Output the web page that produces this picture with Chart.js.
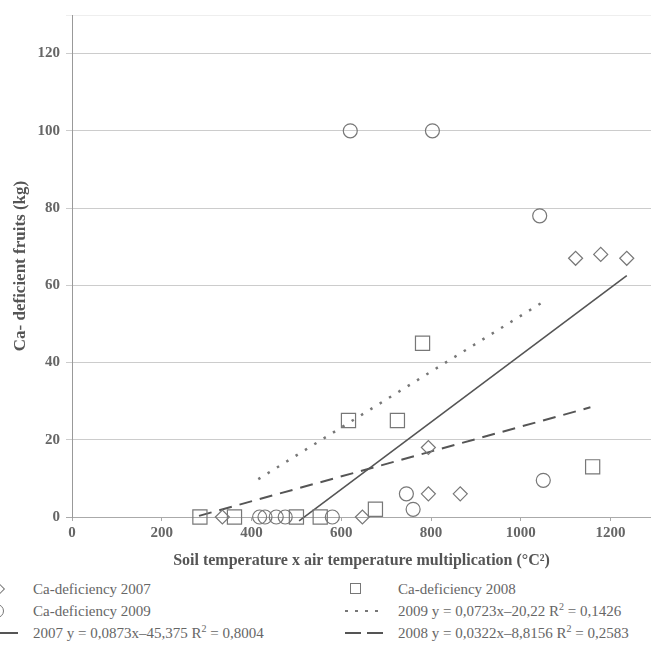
<!DOCTYPE html>
<html>
<head>
<meta charset="utf-8">
<script src="https://cdn.jsdelivr.net/npm/chart.js@4"></script>
<style>
  body { margin: 0; width: 651px; height: 653px; overflow: hidden; background: #fff; position: relative; }
  #chart { position: absolute; left: 0; top: 0; }
  .leg { position: absolute; font: 15px "Liberation Serif", serif; color: #666; white-space: nowrap; line-height: 16px; }
  .leg sup { font-size: 10px; line-height: 0; }
  .mk { position: absolute; box-sizing: border-box; }
</style>
</head>
<body>
<canvas id="chart" width="651" height="575"></canvas>

<!-- legend -->
<div class="mk" style="left:-7px;top:584px;width:10px;height:10px;border:1.2px solid #777;transform:rotate(45deg);"></div>
<div class="leg" style="left:33px;top:581px;">Ca-deficiency 2007</div>
<div class="mk" style="left:-10px;top:604px;width:14px;height:14px;border:1.2px solid #777;border-radius:50%;"></div>
<div class="leg" style="left:33px;top:603px;">Ca-deficiency 2009</div>
<div class="mk" style="left:0px;top:632px;width:18px;height:0;border-top:2px solid #555;"></div>
<div class="leg" style="left:33px;top:625px;">2007 y = 0,0873x–45,375 R<sup>2</sup> = 0,8004</div>

<div class="mk" style="left:350px;top:583px;width:11px;height:11px;border:1.2px solid #777;"></div>
<div class="leg" style="left:398px;top:581px;">Ca-deficiency 2008</div>
<div class="mk" style="left:345px;top:610px;width:40px;height:2px;background-image:linear-gradient(to right,#777 3px,transparent 3px);background-size:10px 2px;"></div>
<div class="leg" style="left:398px;top:603px;">2009 y = 0,0723x–20,22 R<sup>2</sup> = 0,1426</div>
<div class="mk" style="left:345px;top:632px;width:16px;height:0;border-top:2px solid #555;"></div>
<div class="mk" style="left:367px;top:632px;width:16px;height:0;border-top:2px solid #555;"></div>
<div class="leg" style="left:398px;top:625px;">2008 y = 0,0322x–8,8156 R<sup>2</sup> = 0,2583</div>

<script>
// Ca-deficiency points, x = soil temp x air temp (°C²), y = kg
const x2007 = [335, 647, 794, 794, 865, 1122, 1178, 1236];
const y2007 = [0, 0, 18, 6, 6, 67, 68, 67];

const x2008 = [285, 362, 500, 553, 676, 616, 725, 781, 1160];
const y2008 = [0, 0, 0, 0, 2, 25, 25, 45, 13];

const x2009 = [418, 430, 455, 475, 580, 745, 760, 1050, 1042, 620, 803];
const y2009 = [0, 0, 0, 0, 0, 6, 2, 9.5, 78, 100, 100];

// trend line end points
const trend2007X = [506, 1236];
const trend2007Y = [-1, 62.5];
const trend2008X = [283, 1155];
const trend2008Y = [0.3, 28.4];
const trend2009X = [415, 1044];
const trend2009Y = [9.8, 55.3];

const yTicks = [0, 20, 40, 60, 80, 100, 120];

const pts = (xs, ys) => xs.map((x, i) => ({ x: x, y: ys[i] }));
const serif = '"Liberation Serif", "Times New Roman", serif';
const markerColor = '#777';

const ctx = document.getElementById('chart').getContext('2d');

new Chart(ctx, {
  type: 'scatter',
  data: {
    datasets: [
      {
        label: 'Ca-deficiency 2007',
        data: pts(x2007, y2007),
        pointStyle: 'rectRot',
        pointRadius: 7,
        borderColor: markerColor,
        backgroundColor: 'transparent',
        borderWidth: 1.2,
        clip: false
      },
      {
        label: 'Ca-deficiency 2008',
        data: pts(x2008, y2008),
        pointStyle: 'rect',
        pointRadius: 10,
        borderColor: markerColor,
        backgroundColor: 'transparent',
        borderWidth: 1.2,
        clip: false
      },
      {
        label: 'Ca-deficiency 2009',
        data: pts(x2009, y2009),
        pointStyle: 'circle',
        pointRadius: 7,
        borderColor: markerColor,
        backgroundColor: 'transparent',
        borderWidth: 1.2,
        clip: false
      },
      {
        label: '2007 trend',
        type: 'line',
        data: pts(trend2007X, trend2007Y),
        borderColor: '#555',
        borderWidth: 1.6,
        pointRadius: 0,
        clip: false
      },
      {
        label: '2008 trend',
        type: 'line',
        data: pts(trend2008X, trend2008Y),
        borderColor: '#555',
        borderWidth: 2,
        borderDash: [13, 8],
        pointRadius: 0,
        clip: false
      },
      {
        label: '2009 trend',
        type: 'line',
        data: pts(trend2009X, trend2009Y),
        borderColor: '#777',
        borderWidth: 2.5,
        borderDash: [2.5, 8.5],
        pointRadius: 0,
        clip: false
      }
    ]
  },
  options: {
    responsive: false,
    animation: false,
    layout: { autoPadding: false, padding: { top: 14, right: 0, left: 0, bottom: 0 } },
    plugins: {
      legend: { display: false },
      tooltip: { enabled: false }
    },
    scales: {
      x: {
        type: 'linear',
        min: 0,
        max: 1290,
        afterFit: s => { s.height = 58; },
        border: { display: true, color: '#aaa' },
        grid: { drawOnChartArea: false, drawTicks: true, tickLength: 4, color: '#aaa' },
        ticks: {
          stepSize: 200,
          includeBounds: false,
          padding: 3,
          color: '#666',
          font: { family: serif, size: 15, weight: 'bold' },
          callback: v => String(v)
        },
        title: {
          display: true,
          text: 'Soil temperature x air temperature multiplication (°C²)',
          color: '#555',
          padding: { top: 0, bottom: 5 },
          font: { family: serif, size: 16, weight: 'bold' }
        }
      },
      y: {
        min: 0,
        max: 130,
        afterFit: s => { s.width = 72; },
        afterBuildTicks: s => { s.ticks = yTicks.concat([130]).map(v => ({ value: v })); },
        border: { display: true, color: '#999' },
        grid: {
          tickLength: 6,
          color: c => c.tick && c.tick.value === 130 ? '#eee' : (c.tick && c.tick.value === 0 ? '#aaa' : '#ccc')
        },
        ticks: {
          padding: 6,
          color: '#666',
          font: { family: serif, size: 15, weight: 'bold' },
          callback: v => v === 130 ? '' : String(v)
        },
        title: {
          display: true,
          text: 'Ca- deficient fruits (kg)',
          color: '#555',
          padding: { top: 10, bottom: 0 },
          font: { family: serif, size: 17, weight: 'bold' }
        }
      }
    }
  }
});
</script>
</body>
</html>
